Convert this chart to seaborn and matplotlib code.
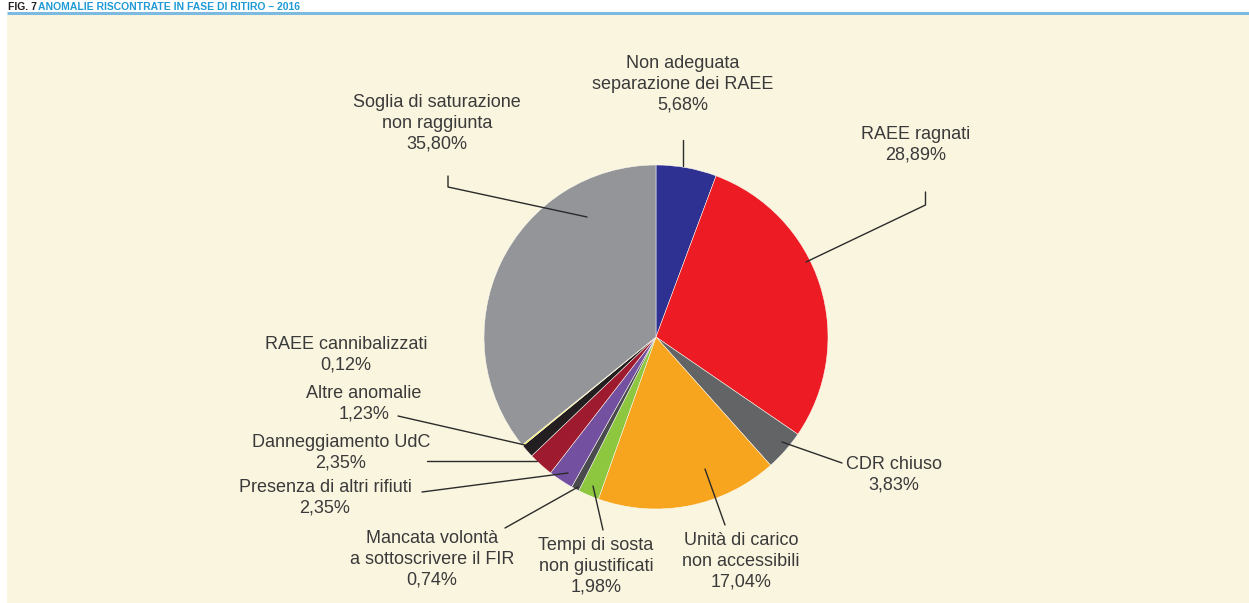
import matplotlib
matplotlib.use("Agg")
import matplotlib.pyplot as plt
import seaborn as sns

# ---- data ----
labels = [
    "Non adeguata\nseparazione dei RAEE",
    "RAEE ragnati",
    "CDR chiuso",
    "Unità di carico\nnon accessibili",
    "Tempi di sosta\nnon giustificati",
    "Mancata volontà\na sottoscrivere il FIR",
    "Presenza di altri rifiuti",
    "Danneggiamento UdC",
    "Altre anomalie",
    "RAEE cannibalizzati",
    "Soglia di saturazione\nnon raggiunta",
]
values = [5.68, 28.89, 3.83, 17.04, 1.98, 0.74, 2.35, 2.35, 1.23, 0.12, 35.80]
colors = ["#2E3192", "#ED1C24", "#636466", "#F7A51E", "#8DC63F", "#4A4B4D",
          "#7350A0", "#9E1B2F", "#231F20", "#FFF200", "#939598"]

W, H = 1249, 603
BG = "#FAF5DF"
TXT = "#3A3A3A"

sns.set_theme(style="white")
plt.rcParams["font.family"] = ["Liberation Sans", "DejaVu Sans"]

fig = plt.figure(figsize=(W / 100, H / 100), dpi=100)
fig.patch.set_facecolor("white")
ax = fig.add_axes([0, 0, 1, 1])


def Y(py):
    return H - py


cx, cy, R = 656, 337, 172
ax.pie(values, colors=colors, startangle=90, counterclock=False,
       center=(cx, Y(cy)), radius=R, frame=True,
       wedgeprops=dict(edgecolor="#FFFDF5", linewidth=0.35, zorder=2))
ax.set_xlim(0, W)
ax.set_ylim(0, H)
ax.axis("off")

# background panel and top rule
ax.add_patch(plt.Rectangle((7, 0), W - 7, Y(15), facecolor=BG, edgecolor="none", zorder=0))
ax.plot([7, W], [Y(12.5), Y(12.5)], color="#7DBADF", lw=2.2, zorder=1, solid_capstyle="butt")

# title in the top strip
fig.text(8 / W, 1 - 10 / H, "FIG. 7 ", fontsize=7.5, fontweight="bold", color="#231F20",
         va="baseline", ha="left")
fig.text(38 / W, 1 - 10 / H, "ANOMALIE RISCONTRATE IN FASE DI RITIRO – 2016", fontsize=7.5,
         fontweight="bold", color="#1E9AD6", va="baseline", ha="left")

# label text positions (center x, top-line center y) in pixels
label_pos = [
    (683, 62), (916, 133), (894, 463), (741, 539), (596, 544), (432, 537),
    (325, 486), (341, 441), (364, 392), (346, 343), (437, 101),
]
for lab, val, (px, py) in zip(labels, values, label_pos):
    txt = lab + "\n" + f"{val:.2f}".replace(".", ",") + "%"
    ax.text(px, Y(py - 7), txt, ha="center", va="top", fontsize=13, color=TXT,
            linespacing=1.3)

# leader lines (pixel polylines)
leaders = [
    [(683, 140), (683, 166)],
    [(925.5, 192), (925.5, 205), (806, 262)],
    [(782, 442), (842, 463)],
    [(705, 469), (725, 525)],
    [(593, 486), (603, 530)],
    [(578, 487), (505, 528)],
    [(568, 473), (422, 492)],
    [(537, 461), (427, 461)],
    [(525, 445), (398, 416)],
    [(448, 176), (448, 187), (587, 217)],
]
for pts in leaders:
    xs = [p[0] for p in pts]
    ys = [Y(p[1]) for p in pts]
    ax.plot(xs, ys, color="#2B2B2B", lw=1.0, zorder=5)

fig.savefig("out.png", dpi=100, facecolor="white")
